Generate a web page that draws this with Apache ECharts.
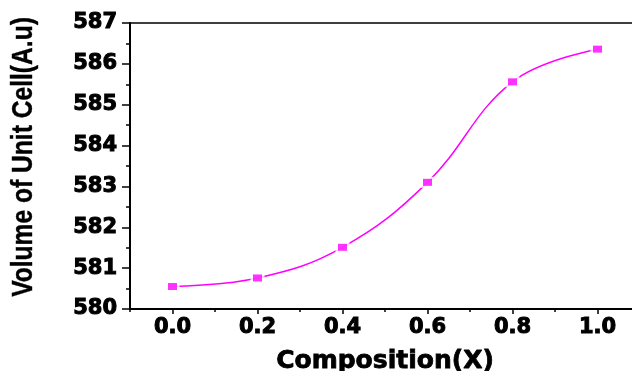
<!DOCTYPE html>
<html>
<head>
<meta charset="utf-8">
<script src="https://cdn.jsdelivr.net/npm/echarts@6/dist/echarts.min.js"></script>
<style>
  html, body { margin: 0; padding: 0; background: #fff; }
  #chart { width: 632px; height: 371px; }
</style>
</head>
<body>
<div id="chart"></div>
<script>
// composition x and unit cell volume
var composition = [0.0, 0.2, 0.4, 0.6, 0.8, 1.0];
var volume = [580.55, 580.76, 581.51, 583.1, 585.56, 586.36];
var xMajorTicks = [0.0, 0.2, 0.4, 0.6, 0.8, 1.0];
var xMinorTicks = [-0.1, 0.1, 0.3, 0.5, 0.7, 0.9, 1.1];

var points = composition.map(function (x, i) { return [x, volume[i]]; });

var tickFont = "DejaVu Sans";
var chart = echarts.init(document.getElementById("chart"));
var option = {
  animation: false,
  grid: {
    left: 130,
    top: 23,
    right: -8,
    bottom: 62,
    outerBoundsMode: "none",
    containLabel: false,
    show: true,
    borderColor: "#000",
    borderWidth: 1.5
  },
  // y title drawn narrow, like the condensed font of the original
  graphic: [
    {
      type: "text",
      x: 24,
      y: 157,
      rotation: Math.PI / 2,
      scaleX: 0.82,
      style: {
        text: "Volume of Unit Cell(A.u)",
        fontFamily: "Liberation Sans",
        fontWeight: "bold",
        fontSize: 30,
        fill: "#000",
        stroke: "#000",
        lineWidth: 0.4,
        align: "center",
        verticalAlign: "middle"
      }
    }
  ],
  xAxis: [
    {
      type: "value",
      min: -0.1,
      max: 1.1,
      name: "Composition(X)",
      nameLocation: "middle",
      nameGap: 40,
      nameTextStyle: {
        fontFamily: tickFont, fontWeight: "bold", fontSize: 25, color: "#000",
        textBorderColor: "#000", textBorderWidth: 0.8
      },
      axisLine: { lineStyle: { color: "#000", width: 2 } },
      axisTick: { customValues: xMajorTicks, length: 5, lineStyle: { color: "#000", width: 1.5 } },
      axisLabel: {
        customValues: xMajorTicks,
        margin: 8,
        fontFamily: tickFont,
        fontWeight: "bold",
        fontSize: 21,
        color: "#000",
        textBorderColor: "#000",
        textBorderWidth: 1,
        formatter: function (v) { return v.toFixed(1); }
      },
      splitLine: { show: false }
    },
    {
      type: "value",
      position: "bottom",
      min: -0.1,
      max: 1.1,
      axisLine: { show: false },
      axisTick: { customValues: xMinorTicks, length: 3, lineStyle: { color: "#000", width: 1.5 } },
      axisLabel: { show: false },
      splitLine: { show: false }
    }
  ],
  yAxis: {
    type: "value",
    min: 580,
    max: 587,
    interval: 1,
    axisLine: { show: true, onZero: false, lineStyle: { color: "#000", width: 2 } },
    axisTick: { show: true, length: 8, lineStyle: { color: "#000", width: 1.5 } },
    minorTick: { show: true, splitNumber: 2, length: 4, lineStyle: { color: "#000", width: 1.5 } },
    axisLabel: {
      margin: 13,
      fontFamily: tickFont,
      fontWeight: "bold",
      fontSize: 21,
      color: "#000",
      textBorderColor: "#000",
      textBorderWidth: 1
    },
    splitLine: { show: false }
  },
  series: [
    {
      type: "line",
      data: points,
      smooth: 0.4,
      showSymbol: false,
      lineStyle: { color: "#ff00ff", width: 1.5 },
      z: 2
    },
    {
      // white halo so the line stops short of each marker
      type: "scatter",
      data: points,
      symbol: "rect",
      symbolSize: [14, 11],
      itemStyle: { color: "#fff" },
      z: 3
    },
    {
      type: "scatter",
      data: points,
      symbol: "rect",
      symbolSize: [9, 7],
      itemStyle: { color: "#ff00ff" },
      z: 4
    }
  ]
};
chart.setOption(option);
</script>
</body>
</html>
